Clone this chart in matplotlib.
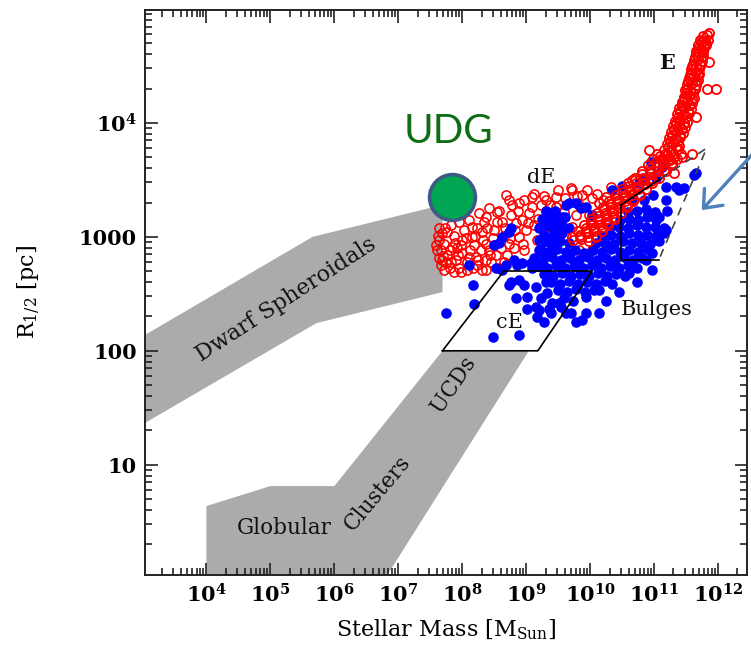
import numpy as np
import matplotlib
matplotlib.use("Agg")
import matplotlib.pyplot as plt
from matplotlib.ticker import FixedLocator, FixedFormatter, LogLocator, NullFormatter

plt.rcParams['font.family'] = ['DejaVu Serif']
plt.rcParams['mathtext.fontset'] = 'dejavuserif'

# ---- galaxy samples (log10 stellar mass [Msun], log10 half-light radius [pc]) ----
# dwarf ellipticals (open red circles)
de_logm = [8.68, 8.89, 9.12, 9.31, 9.70, 9.87, 10.03, 10.32, 10.40,
           8.42, 8.54, 8.26, 8.11, 7.95, 7.83, 7.69, 7.64, 7.67, 7.64, 7.75,
           7.90, 8.00, 7.84, 8.00, 8.15, 8.31, 8.37, 8.22, 8.37, 8.53, 7.95,
           8.58, 8.37, 8.73, 8.89, 9.00, 8.84, 9.04, 9.31, 9.47, 9.51, 9.72,
           9.93, 10.09, 10.03, 9.82,
           7.61, 7.69, 7.80, 8.11, 8.31, 8.42, 8.15, 8.37, 8.58, 8.73, 9.09,
           9.47, 9.72, 10.56, 10.65,
           7.72, 7.76, 7.87, 7.92, 8.03, 8.08, 8.19, 8.23, 8.29, 8.34, 8.45,
           8.50, 8.50, 8.62, 8.65, 8.70, 8.76, 8.81, 8.93, 8.97, 9.12, 9.17,
           9.23, 9.36, 9.40, 9.59, 9.62, 9.78, 9.82, 9.98, 10.01,
           7.59, 7.72, 7.87, 8.08, 8.23, 7.64, 7.76, 7.90,
           7.62, 7.73, 7.80, 7.70, 7.83, 7.94, 7.98, 8.05, 8.12, 8.20,
           8.25, 8.33, 8.39, 8.44, 8.48, 8.54, 8.61, 8.67, 8.75, 8.83,
           8.87, 8.95, 9.03, 9.09, 9.18, 9.28, 9.37, 9.50, 9.61, 9.79,
           9.95, 10.10, 10.20, 7.66, 7.89, 8.17, 7.98, 8.65, 8.78, 8.97]
de_logr = [3.37, 3.30, 3.38, 3.32, 3.43, 3.37, 3.34, 3.44, 3.34,
           3.25, 3.22, 3.21, 3.15, 3.13, 3.10, 3.03, 2.97, 2.88, 2.81, 2.77,
           2.80, 2.86, 2.91, 2.97, 3.00, 3.04, 2.94, 2.82, 2.80, 2.84, 2.73,
           2.73, 2.71, 2.94, 3.00, 3.06, 3.12, 3.21, 3.23, 3.26, 3.15, 3.09,
           3.03, 3.00, 2.88, 2.88,
           2.88, 2.80, 2.73, 2.82, 2.71, 2.88, 3.09, 3.17, 3.23, 3.32, 3.35,
           3.35, 3.41, 3.41, 3.50,
           2.94, 2.84, 3.01, 2.90, 3.06, 2.78, 2.93, 3.08, 2.88, 3.13, 2.78,
           3.06, 2.93, 3.13, 3.01, 2.84, 3.19, 2.90, 3.15, 2.88, 3.10, 2.97,
           3.28, 3.19, 3.08, 3.22, 3.01, 3.19, 3.28, 3.19, 3.10,
           2.93, 2.71, 2.69, 2.71, 2.75, 3.08, 3.04, 3.21,
           3.01, 3.08, 2.88, 2.83, 2.78, 2.84, 2.93, 2.99, 2.88, 3.01,
           2.80, 2.97, 3.08, 2.84, 2.99, 3.13, 2.90, 3.08, 2.99, 3.06,
           3.23, 2.94, 3.12, 3.26, 3.16, 3.36, 3.28, 3.41, 3.34, 3.36,
           3.41, 3.38, 3.32, 2.75, 2.95, 2.73, 2.69, 2.78, 3.28, 3.32]

# giant ellipticals (open red circles)
e_logm = [9.73, 9.86, 9.98, 9.84, 9.96, 10.09, 9.93, 10.06, 10.18,
          10.01, 10.14, 10.26, 10.12, 10.25, 10.37, 10.21, 10.34, 10.47,
          10.31, 10.43, 10.56, 10.42, 10.54, 10.67, 10.51, 10.63, 10.76,
          10.60, 10.73, 10.85, 10.70, 10.82, 10.95, 10.81, 10.93, 11.06,
          10.93, 11.04, 11.15, 11.03, 11.13, 11.24, 11.09, 11.20, 11.31,
          11.15, 11.26, 11.37, 11.20, 11.29, 11.38, 11.23, 11.32, 11.41,
          11.26, 11.35, 11.45, 11.29, 11.38, 11.48, 11.32, 11.41, 11.51,
          11.35, 11.45, 11.54, 11.38, 11.48, 11.57, 11.43, 11.51, 11.59,
          11.46, 11.54, 11.62, 11.48, 11.56, 11.63, 11.51, 11.59, 11.66,
          11.54, 11.60, 11.68, 11.57, 11.63, 11.70, 11.59, 11.65, 11.71,
          11.62, 11.68, 11.74, 11.65, 11.70, 11.76, 11.68, 11.73, 11.79,
          11.73, 11.76, 11.80, 11.77, 11.82,
          9.71, 9.84, 9.96, 10.09, 9.81, 9.93, 10.06, 10.18,
          9.90, 10.03, 10.15, 10.28, 10.01, 10.14, 10.26, 10.39,
          10.10, 10.23, 10.35, 10.48, 10.20, 10.32, 10.45, 10.57,
          10.29, 10.42, 10.54, 10.67, 10.40, 10.53, 10.65, 10.78,
          10.49, 10.62, 10.74, 10.87, 10.59, 10.71, 10.84, 10.96,
          10.70, 10.82, 10.95, 11.07, 10.81, 10.93, 11.06, 11.18,
          10.90, 11.03, 11.15, 11.28, 10.98, 11.10, 11.23, 11.35,
          11.04, 11.17, 11.29, 11.42,
          11.21, 11.34, 11.24, 11.37, 11.27, 11.40, 11.31, 11.43,
          11.34, 11.46, 11.37, 11.49, 11.40, 11.52, 11.43, 11.56,
          11.46, 11.59, 11.49, 11.61, 11.51, 11.63, 11.53, 11.66,
          11.56, 11.68, 11.58, 11.70, 11.60, 11.73, 11.63, 11.75,
          11.65, 11.77, 11.68, 11.81, 11.72, 11.84,
          11.86, 11.81, 11.85, 11.82, 11.96, 11.65, 10.92, 11.59, 11.27,
          11.31, 11.77, 11.12, 11.43, 10.45, 10.25, 10.14]
e_logr = [2.97, 2.98, 2.96, 3.02, 3.03, 3.01, 3.08, 3.07, 3.09,
          3.13, 3.14, 3.12, 3.18, 3.19, 3.17, 3.24, 3.23, 3.25,
          3.29, 3.30, 3.28, 3.34, 3.35, 3.33, 3.39, 3.40, 3.38,
          3.45, 3.44, 3.46, 3.50, 3.51, 3.49, 3.55, 3.56, 3.54,
          3.60, 3.61, 3.59, 3.66, 3.65, 3.67, 3.71, 3.72, 3.70,
          3.76, 3.75, 3.77, 3.81, 3.82, 3.80, 3.87, 3.86, 3.88,
          3.92, 3.93, 3.91, 3.97, 3.98, 3.96, 4.02, 4.03, 4.01,
          4.08, 4.07, 4.09, 4.13, 4.14, 4.12, 4.18, 4.19, 4.17,
          4.23, 4.24, 4.22, 4.29, 4.28, 4.30, 4.34, 4.35, 4.33,
          4.39, 4.40, 4.38, 4.44, 4.45, 4.43, 4.50, 4.49, 4.51,
          4.55, 4.56, 4.54, 4.60, 4.61, 4.59, 4.66, 4.65, 4.67,
          4.71, 4.72, 4.70, 4.76, 4.77,
          3.00, 3.00, 3.00, 3.00, 3.05, 3.05, 3.05, 3.05,
          3.10, 3.10, 3.10, 3.10, 3.16, 3.16, 3.16, 3.16,
          3.21, 3.21, 3.21, 3.21, 3.26, 3.26, 3.26, 3.26,
          3.31, 3.31, 3.31, 3.31, 3.37, 3.37, 3.37, 3.37,
          3.42, 3.42, 3.42, 3.42, 3.47, 3.47, 3.47, 3.47,
          3.52, 3.52, 3.52, 3.52, 3.58, 3.58, 3.58, 3.58,
          3.63, 3.63, 3.63, 3.63, 3.68, 3.68, 3.68, 3.68,
          3.73, 3.73, 3.73, 3.73,
          3.79, 3.79, 3.84, 3.84, 3.89, 3.89, 3.95, 3.95,
          4.00, 4.00, 4.05, 4.05, 4.10, 4.10, 4.16, 4.16,
          4.21, 4.21, 4.26, 4.26, 4.31, 4.31, 4.37, 4.37,
          4.42, 4.42, 4.47, 4.47, 4.52, 4.52, 4.58, 4.58,
          4.63, 4.63, 4.68, 4.68, 4.73, 4.73,
          4.79, 4.70, 4.53, 4.30, 4.30, 4.05, 3.76, 3.73, 3.65,
          3.56, 4.62, 3.67, 3.70, 3.32, 3.35, 3.30]

# compact ellipticals and bulges (filled blue circles)
blue_logm = [7.75, 8.19, 8.48, 8.89, 8.11, 8.16, 8.58, 8.62, 8.73, 8.76,
             8.50, 8.62, 8.81, 8.94, 9.09, 8.73, 8.89, 9.01, 9.15, 8.84,
             9.01, 9.20, 9.23, 9.33, 9.40, 9.39, 9.54, 9.70, 9.78, 9.93,
             10.14, 9.28, 9.17, 8.53, 8.69, 8.86, 9.08, 8.76, 8.97, 9.31,
             9.15, 9.36, 9.51, 9.62, 9.87, 10.25, 10.45, 10.73, 10.96, 10.34,
             10.14, 9.93, 10.60, 10.87, 11.12, 11.20, 11.38, 11.65, 11.18, 11.03,
             10.95, 10.76, 10.34, 10.49, 10.65, 10.81, 11.12, 11.34, 11.46, 11.62,
             11.18, 11.07, 11.18, 10.96, 11.03, 9.67, 9.86, 10.03, 9.62, 9.78,
             9.93, 9.31, 9.40, 9.25, 9.20, 9.20, 9.20, 9.25, 9.31, 9.36,
             9.47, 9.56, 9.67,
             9.34, 9.48, 9.62, 9.76, 9.90, 10.04, 10.18, 10.32, 10.46, 10.60,
             10.74, 10.89,
             9.12, 9.26, 9.40, 9.54, 9.68, 9.82, 9.96, 10.11, 10.25, 10.39,
             10.53, 10.67, 10.81,
             9.18, 9.33, 9.47, 9.61, 9.75, 9.89, 10.03, 10.17, 10.31, 10.45,
             10.59, 10.73,
             9.28, 9.42, 9.56, 9.70, 9.84, 9.98, 10.12, 10.26, 10.40, 10.54,
             9.39, 9.53, 9.67, 9.81, 9.95, 10.09, 10.23,
             9.50, 9.64, 9.78, 9.92, 10.06,
             9.59, 9.73,
             9.25, 9.39, 9.53, 9.67, 10.09, 10.23, 10.37, 10.51, 10.65, 10.79,
             10.93, 11.07,
             9.28, 9.42, 9.56, 10.19, 10.32, 10.46, 10.60, 10.74, 10.88, 11.02,
             11.16,
             9.28, 9.42, 9.56, 10.31, 10.45, 10.59, 10.73, 10.87, 11.01, 11.15,
             9.33, 9.47, 9.61, 10.46, 10.60, 10.74, 10.88, 11.02,
             9.45, 10.59, 10.73, 10.87, 11.01,
             10.84, 10.98]
blue_logr = [2.33, 2.41, 2.12, 2.14, 2.75, 2.58, 2.95, 3.00, 3.04, 3.08,
             2.93, 2.71, 2.80, 2.77, 2.73, 2.58, 2.62, 2.47, 2.56, 2.46,
             2.37, 2.36, 2.46, 2.51, 2.42, 2.33, 2.38, 2.33, 2.25, 2.33,
             2.33, 2.25, 2.30, 2.73, 2.75, 2.75, 2.77, 2.60, 2.58, 2.60,
             2.38, 2.37, 2.42, 2.33, 2.27, 2.44, 2.52, 2.60, 2.71, 2.59,
             2.53, 2.47, 2.68, 2.80, 3.06, 3.23, 3.41, 3.56, 3.44, 3.52,
             3.66, 3.47, 3.41, 3.45, 3.32, 3.50, 3.61, 3.44, 3.43, 3.54,
             3.32, 3.17, 3.06, 2.86, 2.97, 3.30, 3.25, 3.19, 3.28, 3.30,
             3.26, 3.23, 3.21, 3.16, 3.08, 2.97, 2.88, 2.87, 3.00, 3.12,
             3.04, 3.17, 3.08,
             2.87, 2.89, 2.87, 2.88, 2.86, 2.88, 2.87, 2.89, 2.87, 2.88,
             2.87, 2.89,
             2.81, 2.80, 2.82, 2.80, 2.81, 2.80, 2.82, 2.80, 2.81, 2.80,
             2.82, 2.80, 2.81,
             2.74, 2.73, 2.75, 2.73, 2.74, 2.73, 2.75, 2.73, 2.74, 2.73,
             2.75, 2.73,
             2.67, 2.66, 2.68, 2.66, 2.67, 2.66, 2.68, 2.66, 2.67, 2.66,
             2.60, 2.59, 2.61, 2.59, 2.60, 2.59, 2.61,
             2.53, 2.52, 2.54, 2.52, 2.53,
             2.46, 2.44,
             2.95, 2.94, 2.96, 2.95, 2.95, 2.95, 2.94, 2.96, 2.95, 2.95,
             2.94, 2.96,
             3.02, 3.01, 3.03, 3.01, 3.02, 3.01, 3.03, 3.02, 3.02, 3.01,
             3.03,
             3.09, 3.08, 3.10, 3.09, 3.09, 3.08, 3.10, 3.09, 3.09, 3.08,
             3.16, 3.15, 3.17, 3.15, 3.16, 3.15, 3.17, 3.15,
             3.23, 3.22, 3.23, 3.24, 3.22,
             3.32, 3.37]

# ---- shaded loci and outlines (log10 mass, log10 radius) ----
dsph_logm = [3.0, 5.66, 7.69, 7.69, 5.72, 3.0]
dsph_logr = [2.126, 3.0, 3.28, 2.515, 2.243, 1.354]
gc_logm = [4.0, 4.0, 5.0, 6.0, 7.69, 9.04, 6.79]
gc_logr = [0.0, 0.638, 0.813, 0.813, 2.0, 2.0, 0.0]
ce_logm = [7.69, 9.18, 10.03, 8.65, 7.69]
ce_logr = [2.0, 2.0, 2.70, 2.70, 2.0]
bulge_solid_logm = [10.48, 10.48, 11.07]
bulge_solid_logr = [3.28, 2.796, 2.796]
bulge_top_logm = [10.48, 11.10]
bulge_top_logr = [3.28, 3.51]
bulge_dash_logm = [11.10, 11.82, 11.07]
bulge_dash_logr = [3.51, 3.778, 2.796]

# ultra-diffuse galaxy marker
udg_logm = 7.842
udg_logr = 3.348

fig = plt.figure(figsize=(7.51, 6.62), dpi=100)
ax = fig.add_axes([145 / 751, 1 - 575 / 662, 602 / 751, 565 / 662])
ax.set_xscale('log')
ax.set_yscale('log')
ax.set_xlim(10 ** 3.04, 10 ** 12.45)
ax.set_ylim(10 ** 0.033, 10 ** 4.99)

grey = '#ababab'
ax.fill(10 ** np.array(dsph_logm), 10 ** np.array(dsph_logr), color=grey, lw=0, zorder=1)
ax.fill(10 ** np.array(gc_logm), 10 ** np.array(gc_logr), color=grey, lw=0, zorder=1)

ax.plot(10 ** np.array(de_logm), 10 ** np.array(de_logr), 'o', ms=6.6, mfc='none',
        mec='#ff0000', mew=1.15, zorder=2)
ax.plot(10 ** np.array(blue_logm), 10 ** np.array(blue_logr), 'o', ms=7.6,
        mfc='#0000ff', mec='#0000ff', mew=0, zorder=3)
ax.plot(10 ** np.array(e_logm), 10 ** np.array(e_logr), 'o', ms=6.6, mfc='none',
        mec='#ff0000', mew=1.3, zorder=3.5)

ax.plot(10 ** np.array(ce_logm), 10 ** np.array(ce_logr), color='black', lw=1.2, zorder=4)
ax.plot(10 ** np.array(bulge_solid_logm), 10 ** np.array(bulge_solid_logr), color='black', lw=1.2, zorder=4)
ax.plot(10 ** np.array(bulge_top_logm), 10 ** np.array(bulge_top_logr), color='black', lw=1.2, zorder=4)
ax.plot(10 ** np.array(bulge_dash_logm), 10 ** np.array(bulge_dash_logr), color='#444444', lw=1.2,
        ls=(0, (5, 4)), zorder=4)

ax.plot([10 ** udg_logm], [10 ** udg_logr], 'o', ms=33, mfc='#00a651', mec='#3c5a85', mew=2.6, zorder=6)
ax.text(10 ** 7.78, 10 ** 3.927, 'UDG', color='#0f6e14', fontsize=29, family=['Lato', 'DejaVu Sans'],
        ha='center', va='center', zorder=7)

lab = dict(ha='center', va='center', rotation_mode='anchor', zorder=7, color='#111111')
ax.text(10 ** 5.25, 10 ** 2.445, 'Dwarf Spheroidals', fontsize=16, rotation=33, **lab)
ax.text(10 ** 5.22, 10 ** 0.445, 'Globular', fontsize=15.5, rotation=0, **lab)
ax.text(10 ** 6.67, 10 ** 0.752, 'Clusters', fontsize=15.5, rotation=50, **lab)
ax.text(10 ** 7.87, 10 ** 1.70, 'UCDs', fontsize=15.5, rotation=56, **lab)
ax.text(10 ** 8.73, 10 ** 2.252, 'cE', fontsize=15, **lab)
ax.text(10 ** 9.23, 10 ** 3.524, 'dE', fontsize=15, **lab)
ax.text(10 ** 11.2, 10 ** 4.524, 'E', fontsize=15, fontweight='bold', **lab)
ax.text(10 ** 11.04, 10 ** 2.366, 'Bulges', fontsize=15, **lab)

ax.annotate('', xy=(10 ** 11.742, 10 ** 3.234), xytext=(10 ** 12.79, 10 ** 3.883),
            xycoords='data', textcoords='data', annotation_clip=False,
            arrowprops=dict(arrowstyle='->,head_length=1.1,head_width=0.9', color='#4f81bd',
                            lw=2.4, mutation_scale=10, shrinkA=0, shrinkB=0, clip_on=False),
            zorder=8)

# axes ticks and labels
x_major = [1e4, 1e5, 1e6, 1e7, 1e8, 1e9, 1e10, 1e11, 1e12]
x_labels = [r'$\mathbf{10^{4}}$', r'$\mathbf{10^{5}}$', r'$\mathbf{10^{6}}$', r'$\mathbf{10^{7}}$',
            r'$\mathbf{10^{8}}$', r'$\mathbf{10^{9}}$', r'$\mathbf{10^{10}}$', r'$\mathbf{10^{11}}$',
            r'$\mathbf{10^{12}}$']
y_major = [10, 100, 1000, 1e4]
y_labels = ['10', '100', '1000', r'$\mathbf{10^{4}}$']
ax.xaxis.set_major_locator(FixedLocator(x_major))
ax.xaxis.set_major_formatter(FixedFormatter(x_labels))
ax.yaxis.set_major_locator(FixedLocator(y_major))
ax.yaxis.set_major_formatter(FixedFormatter(y_labels))
ax.xaxis.set_minor_locator(LogLocator(base=10, subs=np.arange(2, 10), numticks=30))
ax.yaxis.set_minor_locator(LogLocator(base=10, subs=np.arange(2, 10), numticks=30))
ax.xaxis.set_minor_formatter(NullFormatter())
ax.yaxis.set_minor_formatter(NullFormatter())
ax.tick_params(which='both', direction='in', top=True, right=True, width=1.2, colors='#222222',
               labelsize=15, labelcolor='black')
ax.tick_params(which='major', length=9, pad=6)
ax.tick_params(which='minor', length=5)
for t in ax.get_yticklabels():
    t.set_fontweight('bold')
for s in ax.spines.values():
    s.set_linewidth(1.4)
    s.set_color('#222222')

ax.set_xlabel(r'Stellar Mass [M$_{\mathrm{Sun}}$]', fontsize=16, labelpad=8)
ax.set_ylabel(r'R$_{1/2}$ [pc]', fontsize=16, labelpad=26)

fig.savefig('out.png', dpi=100)
